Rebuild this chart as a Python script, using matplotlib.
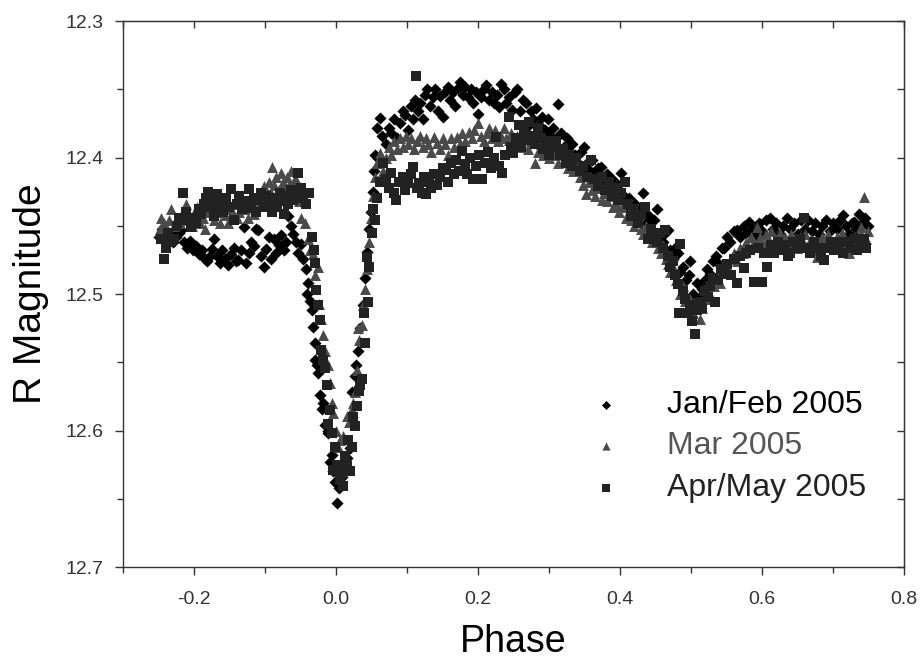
import matplotlib
matplotlib.use('Agg')
import matplotlib.pyplot as plt
from matplotlib.ticker import MultipleLocator, FormatStrFormatter

plt.rcParams['font.family'] = ['Liberation Sans', 'DejaVu Sans']

# ---- Jan/Feb 2005 (diamonds) ----
janPhase = [
    -0.249, -0.245, -0.242, -0.238, -0.233, -0.229, -0.225, -0.221, -0.218, -0.214,
    -0.210, -0.205, -0.201, -0.197, -0.193, -0.189, -0.185, -0.182, -0.179, -0.175,
    -0.172, -0.168, -0.164, -0.160, -0.157, -0.152, -0.148, -0.144, -0.141, -0.138,
    -0.134, -0.130, -0.127, -0.123, -0.120, -0.116, -0.113, -0.110, -0.106, -0.102,
    -0.099, -0.095, -0.092, -0.088, -0.085, -0.081, -0.078, -0.074, -0.071, -0.067,
    -0.064, -0.060, -0.057, -0.053, -0.050,
    -0.046, -0.043, -0.041, -0.040, -0.037, -0.034, -0.032, -0.030, -0.029, -0.027,
    -0.025, -0.022, -0.020, -0.018, -0.015, -0.012, -0.011, -0.008, -0.006, -0.004,
    -0.002, 0.001, 0.004,
    0.008, 0.012, 0.016, 0.020, 0.022, 0.023, 0.026, 0.028, 0.031, 0.034,
    0.038, 0.041, 0.043, 0.046, 0.049, 0.052, 0.054, 0.055, 0.057, 0.059,
    0.062, 0.065,
    0.070, 0.074, 0.078, 0.082, 0.086, 0.090, 0.094, 0.097, 0.101, 0.105,
    0.108, 0.111, 0.115, 0.118, 0.122, 0.125, 0.128, 0.132, 0.136, 0.140,
    0.143, 0.147, 0.150, 0.154, 0.157, 0.161, 0.165, 0.168, 0.172, 0.175,
    0.179, 0.182, 0.186, 0.190, 0.193, 0.197, 0.200, 0.204, 0.208, 0.211,
    0.215, 0.219, 0.222, 0.226, 0.230, 0.233, 0.237, 0.240, 0.244, 0.248,
    0.252, 0.255, 0.259, 0.263, 0.267, 0.270, 0.274, 0.278, 0.282, 0.286,
    0.290, 0.294, 0.298, 0.302, 0.306, 0.310, 0.313, 0.317, 0.321, 0.325,
    0.329, 0.333, 0.337, 0.341, 0.345, 0.349, 0.353, 0.357, 0.361, 0.365,
    0.369, 0.373, 0.377, 0.381, 0.385, 0.389, 0.393, 0.397, 0.401, 0.405,
    0.409, 0.413, 0.417, 0.421, 0.425, 0.429, 0.432, 0.436, 0.440, 0.444,
    0.448, 0.452, 0.456, 0.460, 0.464, 0.467, 0.471, 0.475, 0.478, 0.481,
    0.485, 0.489, 0.493, 0.497, 0.499, 0.503, 0.506, 0.509, 0.512, 0.516,
    0.520, 0.523, 0.527, 0.531, 0.535, 0.539, 0.543, 0.547, 0.551, 0.555,
    0.560, 0.565, 0.569, 0.574, 0.578, 0.582, 0.587, 0.591, 0.596, 0.600,
    0.605, 0.611, 0.615, 0.620, 0.625, 0.630, 0.635, 0.640, 0.645, 0.650,
    0.655, 0.660, 0.665, 0.670, 0.675, 0.680, 0.685, 0.690, 0.695, 0.700,
    0.705, 0.710, 0.714, 0.718, 0.722, 0.726, 0.729, 0.733, 0.737, 0.741,
    0.745, 0.749,
]
janMag = [
    12.458, 12.452, 12.455, 12.460, 12.456, 12.462, 12.458, 12.455, 12.453, 12.462,
    12.466, 12.461, 12.468, 12.465, 12.471, 12.468, 12.474, 12.476, 12.473, 12.467,
    12.460, 12.472, 12.477, 12.468, 12.474, 12.479, 12.471, 12.466, 12.476, 12.475,
    12.468, 12.451, 12.477, 12.470, 12.462, 12.465, 12.452, 12.453, 12.472, 12.480,
    12.467, 12.458, 12.474, 12.460, 12.470, 12.464, 12.457, 12.468, 12.462, 12.443,
    12.450, 12.456, 12.462, 12.470, 12.463,
    12.474, 12.482, 12.500, 12.492, 12.505, 12.512, 12.524, 12.536, 12.548, 12.552,
    12.558, 12.574, 12.584, 12.580, 12.596, 12.602, 12.600, 12.623, 12.618, 12.630,
    12.638, 12.653, 12.642,
    12.634, 12.628, 12.620, 12.613, 12.590, 12.572, 12.560, 12.552, 12.542, 12.525,
    12.508, 12.488, 12.469, 12.452, 12.440, 12.425, 12.410, 12.398, 12.378, 12.400,
    12.371, 12.384,
    12.390, 12.378, 12.382, 12.372, 12.386, 12.375, 12.366, 12.369, 12.380, 12.362,
    12.372, 12.358, 12.366, 12.360, 12.372, 12.354, 12.350, 12.362, 12.356, 12.350,
    12.366, 12.355, 12.370, 12.352, 12.348, 12.358, 12.352, 12.362, 12.349, 12.345,
    12.354, 12.348, 12.356, 12.350, 12.360, 12.352, 12.368, 12.356, 12.350, 12.347,
    12.358, 12.352, 12.360, 12.354, 12.363, 12.346, 12.350, 12.360, 12.356, 12.365,
    12.352, 12.350, 12.366, 12.358, 12.360, 12.377, 12.366, 12.372, 12.364, 12.376,
    12.370, 12.380, 12.372, 12.384, 12.378, 12.386, 12.361, 12.382, 12.392, 12.386,
    12.396, 12.390, 12.398, 12.404, 12.396, 12.392, 12.404, 12.410, 12.402, 12.412,
    12.408, 12.407, 12.418, 12.412, 12.422, 12.416, 12.426, 12.420, 12.411, 12.428,
    12.436, 12.430, 12.440, 12.434, 12.444, 12.438, 12.426, 12.448, 12.442, 12.452,
    12.446, 12.438, 12.458, 12.462, 12.455, 12.453, 12.468, 12.474, 12.466, 12.470,
    12.484, 12.480, 12.490, 12.486, 12.476, 12.500, 12.508, 12.492, 12.502, 12.496,
    12.490, 12.482, 12.485, 12.476, 12.472, 12.478, 12.466, 12.466, 12.458, 12.462,
    12.454, 12.453, 12.458, 12.450, 12.455, 12.447, 12.452, 12.458, 12.448, 12.454,
    12.446, 12.444, 12.452, 12.448, 12.456, 12.450, 12.444, 12.452, 12.448, 12.456,
    12.446, 12.452, 12.446, 12.454, 12.448, 12.456, 12.450, 12.446, 12.454, 12.448,
    12.452, 12.446, 12.442, 12.450, 12.456, 12.448, 12.447, 12.452, 12.441, 12.448,
    12.444, 12.450,
]

# ---- Mar 2005 (triangles) ----
marPhase = [
    -0.248, -0.246, -0.242, -0.238, -0.235, -0.232, -0.228, -0.224, -0.220, -0.216,
    -0.211, -0.207, -0.203, -0.199, -0.196, -0.192, -0.188, -0.184, -0.180, -0.176,
    -0.172, -0.168, -0.164, -0.160, -0.156, -0.152, -0.148, -0.144, -0.140, -0.136,
    -0.132, -0.128, -0.124, -0.120, -0.116, -0.112, -0.108, -0.104, -0.102, -0.098,
    -0.095, -0.092, -0.090, -0.087, -0.084, -0.081, -0.078, -0.075, -0.072, -0.069,
    -0.066, -0.064, -0.061, -0.058, -0.055, -0.052, -0.050, -0.048,
    -0.044, -0.040, -0.036, -0.032, -0.029, -0.025, -0.024, -0.021, -0.019, -0.016,
    -0.012, -0.008, -0.005, -0.004, 0.000, 0.003, 0.006,
    0.010, 0.015, 0.018, 0.022, 0.024, 0.026, 0.029, 0.031, 0.033, 0.036,
    0.038, 0.041, 0.043, 0.046, 0.049, 0.052, 0.055, 0.058, 0.062,
    0.066, 0.070, 0.074, 0.078, 0.082, 0.086, 0.090, 0.094, 0.098, 0.102,
    0.106, 0.110, 0.114, 0.118, 0.122, 0.126, 0.130, 0.134, 0.138, 0.142,
    0.146, 0.150, 0.154, 0.158, 0.162, 0.166, 0.170, 0.174, 0.178, 0.182,
    0.187, 0.191, 0.195, 0.200, 0.204, 0.208, 0.212, 0.216, 0.220, 0.224,
    0.228, 0.232, 0.236, 0.240, 0.243, 0.247, 0.251, 0.255, 0.259, 0.263,
    0.267, 0.271, 0.275, 0.280, 0.284, 0.288, 0.292, 0.296, 0.300, 0.304,
    0.308, 0.312, 0.318, 0.322, 0.326, 0.330, 0.334, 0.338, 0.344, 0.348,
    0.352, 0.356, 0.360, 0.365, 0.369, 0.374, 0.378, 0.382, 0.386, 0.390,
    0.395, 0.399, 0.403, 0.408, 0.412, 0.416, 0.420, 0.425, 0.429, 0.433,
    0.437, 0.441, 0.445, 0.449, 0.453, 0.457, 0.461, 0.465, 0.467, 0.471,
    0.475, 0.479, 0.484, 0.488, 0.491, 0.495, 0.499, 0.503, 0.507, 0.512,
    0.516, 0.520, 0.524, 0.528, 0.532, 0.536, 0.541, 0.545, 0.549, 0.553,
    0.557, 0.561, 0.565, 0.569, 0.573, 0.577, 0.581, 0.585, 0.589, 0.593,
    0.597, 0.601, 0.605, 0.609, 0.613, 0.617, 0.621, 0.625, 0.629, 0.633,
    0.637, 0.641, 0.645, 0.649, 0.653, 0.657, 0.661, 0.665, 0.669, 0.673,
    0.677, 0.681, 0.685, 0.689, 0.693, 0.697, 0.701, 0.705, 0.709, 0.713,
    0.717, 0.721, 0.723, 0.727, 0.731, 0.735, 0.739, 0.740, 0.743, 0.746,
    0.749,
]
marMag = [
    12.452, 12.444, 12.448, 12.454, 12.446, 12.438, 12.450, 12.444, 12.448, 12.440,
    12.434, 12.446, 12.450, 12.442, 12.436, 12.448, 12.444, 12.452, 12.440, 12.436,
    12.446, 12.440, 12.448, 12.436, 12.442, 12.448, 12.438, 12.434, 12.444, 12.440,
    12.430, 12.438, 12.444, 12.432, 12.441, 12.428, 12.434, 12.425, 12.421, 12.430,
    12.418, 12.426, 12.407, 12.420, 12.414, 12.424, 12.411, 12.418, 12.426, 12.414,
    12.420, 12.410, 12.428, 12.416, 12.418, 12.432, 12.444, 12.426,
    12.448, 12.460, 12.468, 12.471, 12.486, 12.480, 12.507, 12.518, 12.530, 12.542,
    12.552, 12.565, 12.580, 12.587, 12.600, 12.612, 12.607,
    12.604, 12.589, 12.594, 12.584, 12.580, 12.572, 12.556, 12.525, 12.534, 12.523,
    12.508, 12.496, 12.482, 12.462, 12.444, 12.428, 12.414, 12.404, 12.397,
    12.410, 12.400, 12.392, 12.398, 12.388, 12.394, 12.386, 12.392, 12.384, 12.390,
    12.386, 12.394, 12.388, 12.384, 12.392, 12.386, 12.390, 12.396, 12.385, 12.389,
    12.394, 12.386, 12.390, 12.398, 12.386, 12.392, 12.385, 12.390, 12.382, 12.388,
    12.381, 12.386, 12.380, 12.375, 12.384, 12.388, 12.382, 12.378, 12.386, 12.380,
    12.388, 12.384, 12.378, 12.386, 12.387, 12.382, 12.390, 12.384, 12.388, 12.392,
    12.386, 12.394, 12.388, 12.404, 12.396, 12.390, 12.398, 12.392, 12.400, 12.394,
    12.398, 12.404, 12.395, 12.402, 12.408, 12.404, 12.410, 12.406, 12.414, 12.420,
    12.427, 12.418, 12.424, 12.428, 12.422, 12.431, 12.426, 12.432, 12.428, 12.436,
    12.435, 12.440, 12.436, 12.444, 12.440, 12.446, 12.450, 12.446, 12.452, 12.456,
    12.450, 12.458, 12.462, 12.456, 12.466, 12.470, 12.464, 12.474, 12.478, 12.484,
    12.480, 12.490, 12.500, 12.494, 12.505, 12.510, 12.504, 12.514, 12.508, 12.518,
    12.510, 12.504, 12.498, 12.502, 12.494, 12.488, 12.492, 12.482, 12.478, 12.484,
    12.474, 12.470, 12.476, 12.466, 12.470, 12.462, 12.466, 12.458, 12.462, 12.451,
    12.458, 12.464, 12.456, 12.460, 12.454, 12.462, 12.459, 12.455, 12.462, 12.458,
    12.464, 12.456, 12.460, 12.466, 12.458, 12.462, 12.456, 12.464, 12.460, 12.468,
    12.473, 12.462, 12.458, 12.464, 12.456, 12.462, 12.466, 12.458, 12.462, 12.455,
    12.460, 12.466, 12.470, 12.462, 12.458, 12.464, 12.456, 12.451, 12.429, 12.460,
    12.454,
]

# ---- Apr/May 2005 (squares) ----
aprPhase = [
    -0.246, -0.243, -0.240, -0.237, -0.233, -0.228, -0.224, -0.221, -0.218, -0.215,
    -0.212, -0.209, -0.204, -0.200, -0.197, -0.193, -0.190, -0.186, -0.183, -0.180,
    -0.176, -0.172, -0.169, -0.167, -0.163, -0.159, -0.155, -0.151, -0.148, -0.144,
    -0.140, -0.136, -0.132, -0.128, -0.123, -0.120, -0.116, -0.113, -0.110, -0.106,
    -0.102, -0.098, -0.094, -0.090, -0.086, -0.083, -0.079, -0.076, -0.074, -0.070,
    -0.067, -0.063, -0.060, -0.057, -0.053, -0.050, -0.046, -0.042, -0.038,
    -0.034, -0.031, -0.029, -0.028, -0.025, -0.022, -0.021, -0.018, -0.015, -0.013,
    -0.011, -0.009, -0.006, -0.004, -0.001, 0.002, 0.005, 0.008, 0.010, 0.013,
    0.016, 0.017, 0.020, 0.022, 0.024, 0.026, 0.029, 0.032, 0.034, 0.036,
    0.039, 0.041, 0.043, 0.045, 0.046, 0.050, 0.052, 0.055, 0.058,
    0.062, 0.066, 0.071, 0.075, 0.078, 0.082, 0.085, 0.089, 0.094, 0.097,
    0.101, 0.105, 0.108, 0.112, 0.114, 0.117, 0.121, 0.124, 0.127, 0.131,
    0.134, 0.138, 0.142, 0.146, 0.150, 0.155, 0.158, 0.162, 0.166, 0.169,
    0.173, 0.178, 0.181, 0.185, 0.189, 0.193, 0.197, 0.201, 0.206, 0.210,
    0.214, 0.218, 0.222, 0.225, 0.229, 0.234, 0.238, 0.243, 0.246, 0.249,
    0.253, 0.257, 0.261, 0.265, 0.268, 0.272, 0.276, 0.280, 0.284, 0.288,
    0.292, 0.296, 0.300, 0.305, 0.310, 0.315, 0.320, 0.324, 0.328, 0.333,
    0.338, 0.343, 0.348, 0.353, 0.359, 0.364, 0.369, 0.374, 0.379, 0.384,
    0.389, 0.393, 0.397, 0.402, 0.407, 0.411, 0.416, 0.420, 0.425, 0.430,
    0.435, 0.439, 0.443, 0.447, 0.452, 0.456, 0.460, 0.463, 0.467, 0.471,
    0.474, 0.478, 0.481, 0.483, 0.484, 0.488, 0.491, 0.495, 0.498, 0.502,
    0.506, 0.509, 0.513, 0.516, 0.520, 0.524, 0.527, 0.531, 0.534, 0.538,
    0.542, 0.547, 0.551, 0.556, 0.560, 0.565, 0.569, 0.574, 0.578, 0.583,
    0.589, 0.594, 0.600, 0.603, 0.607, 0.612, 0.617, 0.622, 0.627, 0.632,
    0.637, 0.639, 0.644, 0.649, 0.654, 0.659, 0.663, 0.668, 0.673, 0.678,
    0.683, 0.687, 0.692, 0.697, 0.702, 0.706, 0.709, 0.714, 0.719, 0.724,
    0.729, 0.734, 0.739, 0.743, 0.746,
]
aprMag = [
    12.460, 12.474, 12.466, 12.455, 12.462, 12.460, 12.450, 12.444, 12.446, 12.426,
    12.440, 12.446, 12.451, 12.444, 12.448, 12.438, 12.441, 12.434, 12.430, 12.425,
    12.436, 12.443, 12.432, 12.427, 12.436, 12.440, 12.430, 12.436, 12.423, 12.446,
    12.434, 12.428, 12.438, 12.432, 12.423, 12.437, 12.430, 12.440, 12.431, 12.426,
    12.436, 12.428, 12.434, 12.440, 12.430, 12.436, 12.426, 12.432, 12.441, 12.428,
    12.434, 12.424, 12.431, 12.426, 12.411, 12.422, 12.430, 12.434, 12.426,
    12.458, 12.468, 12.477, 12.497, 12.508, 12.519, 12.541, 12.548, 12.554, 12.567,
    12.595, 12.585, 12.602, 12.629, 12.612, 12.625, 12.636, 12.632, 12.641, 12.619,
    12.626, 12.607, 12.630, 12.612, 12.590, 12.597, 12.582, 12.571, 12.567, 12.562,
    12.514, 12.536, 12.473, 12.506, 12.480, 12.455, 12.438, 12.446, 12.430,
    12.418, 12.404, 12.416, 12.422, 12.411, 12.426, 12.431, 12.418, 12.414, 12.424,
    12.419, 12.412, 12.407, 12.340, 12.422, 12.419, 12.426, 12.414, 12.427, 12.418,
    12.422, 12.412, 12.420, 12.414, 12.408, 12.409, 12.418, 12.404, 12.412, 12.402,
    12.410, 12.395, 12.405, 12.412, 12.400, 12.416, 12.406, 12.398, 12.416, 12.404,
    12.396, 12.408, 12.400, 12.385, 12.406, 12.411, 12.398, 12.370, 12.392, 12.397,
    12.386, 12.376, 12.392, 12.380, 12.387, 12.374, 12.384, 12.390, 12.378, 12.386,
    12.394, 12.388, 12.398, 12.392, 12.388, 12.398, 12.394, 12.404, 12.398, 12.406,
    12.400, 12.410, 12.406, 12.414, 12.402, 12.416, 12.421, 12.414, 12.424, 12.418,
    12.428, 12.422, 12.431, 12.426, 12.418, 12.434, 12.443, 12.438, 12.448, 12.442,
    12.436, 12.460, 12.452, 12.458, 12.462, 12.455, 12.466, 12.453, 12.472, 12.480,
    12.476, 12.486, 12.493, 12.514, 12.463, 12.498, 12.504, 12.514, 12.508, 12.520,
    12.529, 12.512, 12.506, 12.510, 12.498, 12.502, 12.494, 12.488, 12.506, 12.490,
    12.482, 12.485, 12.478, 12.486, 12.474, 12.492, 12.472, 12.481, 12.470, 12.468,
    12.491, 12.466, 12.491, 12.470, 12.480, 12.464, 12.470, 12.462, 12.468, 12.464,
    12.472, 12.470, 12.462, 12.466, 12.460, 12.444, 12.466, 12.470, 12.462, 12.466,
    12.472, 12.475, 12.466, 12.462, 12.468, 12.462, 12.466, 12.470, 12.462, 12.466,
    12.460, 12.468, 12.462, 12.460, 12.466,
]

seriesLabels = ['Jan/Feb 2005', 'Mar 2005', 'Apr/May 2005']


def plotData():
    fig = plt.figure(figsize=(9.21, 6.66), dpi=100)
    ax = fig.add_axes([0.1336, 0.1486, 0.848, 0.8198])

    ax.scatter(janPhase, janMag, marker='D', s=38, c='#000000', linewidths=0,
               label=seriesLabels[0], zorder=3)
    ax.scatter(marPhase, marMag, marker='^', s=62, c='#4a4a4a', linewidths=0,
               label=seriesLabels[1], zorder=3)
    ax.scatter(aprPhase, aprMag, marker='s', s=48, c='#222222', linewidths=0,
               label=seriesLabels[2], zorder=3)

    ax.set_xlim(-0.3, 0.8)
    ax.set_ylim(12.7, 12.3)

    ax.xaxis.set_major_locator(MultipleLocator(0.2))
    ax.xaxis.set_minor_locator(MultipleLocator(0.1))
    ax.xaxis.set_major_formatter(FormatStrFormatter('%.1f'))
    ax.yaxis.set_major_locator(MultipleLocator(0.1))
    ax.yaxis.set_minor_locator(MultipleLocator(0.05))
    ax.yaxis.set_major_formatter(FormatStrFormatter('%.1f'))

    for sp in ax.spines.values():
        sp.set_color('#333333')
        sp.set_linewidth(1.0)

    ax.tick_params(axis='both', which='both', direction='out', color='#333333',
                   labelcolor='#333333', labelsize=14, width=1.0)
    ax.tick_params(axis='both', which='major', length=6)
    ax.tick_params(axis='both', which='minor', length=4.5)
    ax.tick_params(axis='x', which='major', pad=11)
    ax.tick_params(axis='y', which='major', pad=8)

    # inward ticks on the top and right sides
    top = ax.secondary_xaxis('top')
    top.xaxis.set_major_locator(MultipleLocator(0.1))
    top.tick_params(direction='in', length=5, width=1.0, color='#333333', labeltop=False)
    top.spines['top'].set_color('#333333')
    right = ax.secondary_yaxis('right')
    right.yaxis.set_major_locator(MultipleLocator(0.05))
    right.tick_params(direction='in', length=5, width=1.0, color='#333333', labelright=False)
    right.spines['right'].set_color('#333333')

    ax.set_xlabel('Phase', fontsize=27, labelpad=12)
    ax.set_ylabel('R Magnitude', fontsize=28, labelpad=12)

    leg = ax.legend(loc='upper left', bbox_to_anchor=(590 / 921, 1 - 390 / 666),
                    bbox_transform=fig.transFigure, frameon=False, fontsize=23,
                    borderpad=0, borderaxespad=0, handlelength=1.0,
                    handletextpad=1.4, labelspacing=0.36, markerscale=0.75)
    textColors = ['#000000', '#555555', '#222222']
    for t, col in zip(leg.get_texts(), textColors):
        t.set_color(col)

    fig.savefig('out.png', dpi=100)


if __name__ == '__main__':
    plotData()
